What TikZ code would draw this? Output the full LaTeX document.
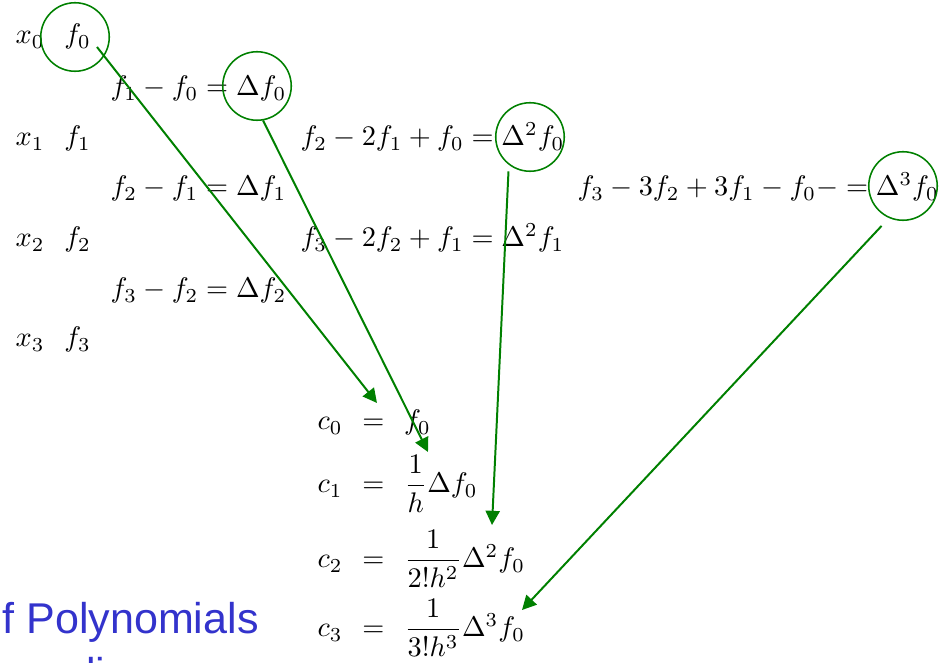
\documentclass[tikz,border=0pt]{standalone}
\usepackage{amsmath, amssymb}
\usepackage{xcolor}
\usepackage{fontspec}
\usepackage{tikz}
\usetikzlibrary{positioning, arrows.meta}

\newfontfamily\titlefont{Liberation Sans}
\definecolor{flechaverde}{RGB}{0,128,0}
\definecolor{tituloazul}{RGB}{51,51,204}

\begin{document}
\begin{tikzpicture}[x=0.0124cm, y=-0.0124cm, node distance=6.6pt, >={Triangle[length=5pt, width=5pt]},
    eq/.style={anchor=base west, inner sep=0pt},
    title/.style={anchor=base west, inner sep=0pt, text=tituloazul, font=\titlefont\fontsize{15.2}{18}\selectfont},
    ring/.style={circle, draw=flechaverde, line width=0.55pt, minimum size=0.85cm, inner sep=0pt},
    flow/.style={->, draw=flechaverde, fill=flechaverde, line width=0.7pt}]

    \useasboundingbox (0,0) rectangle (946,663);
    \clip (0,0) rectangle (946,663);

    % Puntos de muestreo y valores
    \node[eq] (X0) at (15,44) {$x_0$};
    \node[eq] (X1) at (15,146) {$x_1$};
    \node[eq] (X2) at (15,247) {$x_2$};
    \node[eq] (X3) at (15,347) {$x_3$};
    \node[eq] (F0) [base right=of X0] {$f_0$};
    \node[eq] (F1) [base right=of X1] {$f_1$};
    \node[eq] (F2) [base right=of X2] {$f_2$};
    \node[eq] (F3) [base right=of X3] {$f_3$};

    % Diferencias de primer, segundo y tercer orden
    \node[eq] (D0) at (110,96) {$f_1 - f_0 = \Delta f_0$};
    \node[eq] (D1) at (110,196) {$f_2 - f_1 = \Delta f_1$};
    \node[eq] (D2) at (110,298) {$f_3 - f_2 = \Delta f_2$};
    \node[eq] (S0) at (300,146) {$f_2 - 2f_1 + f_0 = \Delta^2 f_0$};
    \node[eq] (S1) at (300,247) {$f_3 - 2f_2 + f_1 = \Delta^2 f_1$};
    \node[eq] (T0) at (577,196) {$f_3 - 3f_2 + 3f_1 - f_0- = \Delta^3 f_0$};

    % Circulos sobre los terminos usados
    \node[ring] (R0) at (75,37) {};
    \node[ring] (R1) at (257,86) {};
    \node[ring] (R2) at (530,137) {};
    \node[ring] (R3) at (903,186) {};

    % Coeficientes
    \node[eq] (C0) at (317,430) {$c_0$};
    \node[eq] (C1) at (317,493) {$c_1$};
    \node[eq] (C2) at (317,568) {$c_2$};
    \node[eq] (C3) at (317,637) {$c_3$};
    \node[eq] (E0) [base right=of C0] {$=$};
    \node[eq] (E1) [base right=of C1] {$=$};
    \node[eq] (E2) [base right=of C2] {$=$};
    \node[eq] (E3) [base right=of C3] {$=$};
    \node[eq] (V0) [base right=of E0] {$f_0$};
    \node[eq] (V1) [base right=of E1] {$\dfrac{1}{h}\Delta f_0$};
    \node[eq] (V2) [base right=of E2] {$\dfrac{1}{2!h^2}\Delta^2 f_0$};
    \node[eq] (V3) [base right=of E3] {$\dfrac{1}{3!h^3}\Delta^3 f_0$};

    % Titulo recortado
    \node[title] (TT1) at (2,634) {f Polynomials};
    \node[title] (TT2) at (2,688) {ampling};

    % Puntas de las flechas
    \coordinate (P0) at (377,403);
    \coordinate (P1) at (428,452);
    \coordinate (P2) at (492,525);
    \coordinate (P3) at (522,610);

    \draw[flow] ([shift={(22,10)}]R0.center) -- (P0);
    \draw[flow] (R1.-80) -- (P1);
    \draw[flow] ([shift={(-4,4)}]R2.-120) -- (P2);
    \draw[flow] ([shift={(-5,9)}]R3.-118) -- (P3);
\end{tikzpicture}
\end{document}
